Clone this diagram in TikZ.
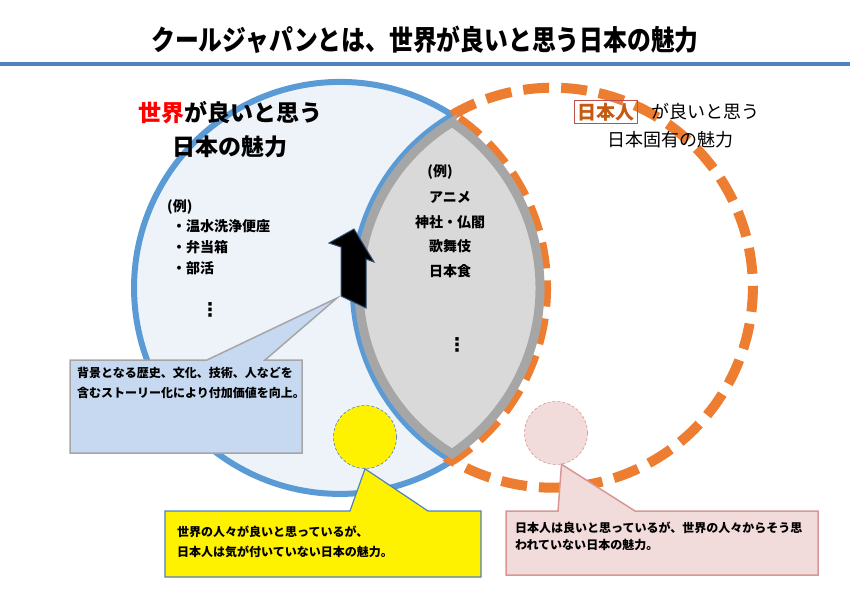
\documentclass[tikz,border=0pt]{standalone}
\usepackage{fontspec}
\setmainfont{Noto Sans CJK JP}
\newfontfamily\dotsfont{DejaVu Sans}
\usetikzlibrary{positioning,calc}
\definecolor{ruleblue}{HTML}{4F81BD}
\definecolor{worldblue}{HTML}{5B9BD5}
\definecolor{worldfill}{HTML}{EEF3FA}
\definecolor{japanorange}{HTML}{ED7D31}
\definecolor{lensfill}{HTML}{D9D9D9}
\definecolor{lensedge}{HTML}{A6A6A6}
\definecolor{notefill}{HTML}{C6D9F1}
\definecolor{pinkfill}{HTML}{F2DCDB}
\definecolor{pinkedge}{HTML}{D99694}
\definecolor{worldred}{HTML}{FF0000}
\definecolor{nihontext}{HTML}{C55A11}
\definecolor{nihonbox}{HTML}{C0504D}
\newcommand{\jpsize}[2]{\fontsize{#1}{#2}\selectfont}

\begin{document}
\begin{tikzpicture}[x=1pt,y=1pt,
  lbl/.style={inner sep=0pt,font=\bfseries\jpsize{14}{24.7},align=center},
  note/.style={inner sep=0pt,anchor=north west,align=left,font=\bfseries\jpsize{12}{20}},
  more/.style={inner sep=0pt,font=\dotsfont\bfseries\jpsize{19}{19}},
  spot/.style={circle,draw,densely dashed,line width=0.6pt,minimum size=63pt,inner sep=0pt}]
\useasboundingbox (0,0) rectangle (850,-607);

% title and rule
\node[xscale=0.85,transform shape,font=\bfseries\jpsize{28}{30}] (title) at (425,-40)
  {クールジャパンとは、世界が良いと思う日本の魅力};
\coordinate (ruleL) at (0,-64);
\coordinate (ruleR) at (850,-64);
\draw[ruleblue,line width=4pt] (ruleL) -- (ruleR);

% the two circles: world (left) and Japan (right)
\coordinate (T) at (452,-115);
\coordinate (Ti) at (452.05,-122.3);
\filldraw[fill=worldfill,draw=worldblue,line width=6pt]
  (T) arc[start angle=57.08,end angle=302.92,radius=206]
      arc[start angle=239.72,end angle=120.28,radius=200] -- cycle;
\draw[japanorange,line width=10pt,dash pattern=on 26pt off 12pt]
  (T) arc[start angle=120.28,end angle=-120.28,radius=200]
      arc[start angle=-57.08,end angle=57.08,radius=206] -- cycle;
\filldraw[fill=lensfill,draw=lensedge,line width=9pt]
  (Ti) arc[start angle=121.35,end angle=238.65,radius=194]
       arc[start angle=-55.93,end angle=55.93,radius=200] -- cycle;

% headings
\node[font=\bfseries\jpsize{23}{34},align=center] (worldhead) at (230,-130)
  {\textcolor{worldred}{世界}が良いと思う\\日本の魅力};
\node[draw=nihonbox,line width=1pt,text=nihontext,font=\bfseries\jpsize{19}{22},
  inner xsep=3pt,inner ysep=2pt] (nihonjin) at (606,-112) {日本人};
\node[right=13pt of nihonjin,inner sep=0pt,font=\jpsize{18}{22}] (nihonhead) {が良いと思う};
\node[inner sep=0pt,font=\jpsize{18}{22}] (nihonhead2) at (670,-140) {日本固有の魅力};

% examples
\node[lbl,align=left,anchor=north west,font=\bfseries\jpsize{14}{20.7}] (worldex) at (167,-199)
  {(例)\\\hspace*{5pt}・温水洗浄便座\\\hspace*{5pt}・弁当箱\\\hspace*{5pt}・部活};
\node[more] (worlddots) at (210,-310) {⋮};
\node[lbl] (lensex) at (440,-172) {(例)};
\node[lbl,anchor=north] (lenslist) at (450,-191) {アニメ\\神社・仏閣\\歌舞伎\\日本食};
\node[more] (lensdots) at (457,-345) {⋮};

% up arrow
\filldraw[fill=black,draw=ruleblue!60!black,line width=1pt,line join=miter]
  (354,-229) -- (374,-262) -- (366,-259) -- (366,-308) -- (341,-296)
  -- (341,-247) -- (329,-243) -- cycle;

% callout on the story
\filldraw[fill=notefill,draw=lensedge,line width=1.5pt]
  (70,-360) -- (207,-360) -- (337,-298) -- (265,-360) -- (302,-360)
  -- (302,-453) -- (70,-453) -- cycle;
\node[note] (storynote) at (77,-367)
  {背景となる歴史、文化、技術、人などを\\含むストーリー化により付加価値を向上。};

% callout: seen by the world only
\node[spot,fill=yellow,draw=ruleblue] (worldspot) at (365,-437) {};
\filldraw[fill=yellow,draw=ruleblue,line width=1.2pt]
  (165,-511) -- (350,-511) -- (worldspot.south) -- (428,-511) -- (481,-511)
  -- (481,-577) -- (165,-577) -- cycle;
\node[note] (worldnote) at (177,-526)
  {世界の人々が良いと思っているが、\\日本人は気が付いていない日本の魅力。};

% callout: seen by Japanese only
\node[spot,fill=pinkfill,draw=pinkedge] (nihonspot) at (556,-433) {};
\filldraw[fill=pinkfill,draw=pinkedge,line width=1.5pt]
  (506,-511) -- (558,-511) -- (nihonspot.-80) -- (635,-511) -- (818,-511)
  -- (818,-575) -- (506,-575) -- cycle;
\node[note,font=\bfseries\jpsize{12}{17}] (nihonnote) at (515,-522)
  {日本人は良いと思っているが、世界の人々からそう思\\われていない日本の魅力。};
\end{tikzpicture}
\end{document}
